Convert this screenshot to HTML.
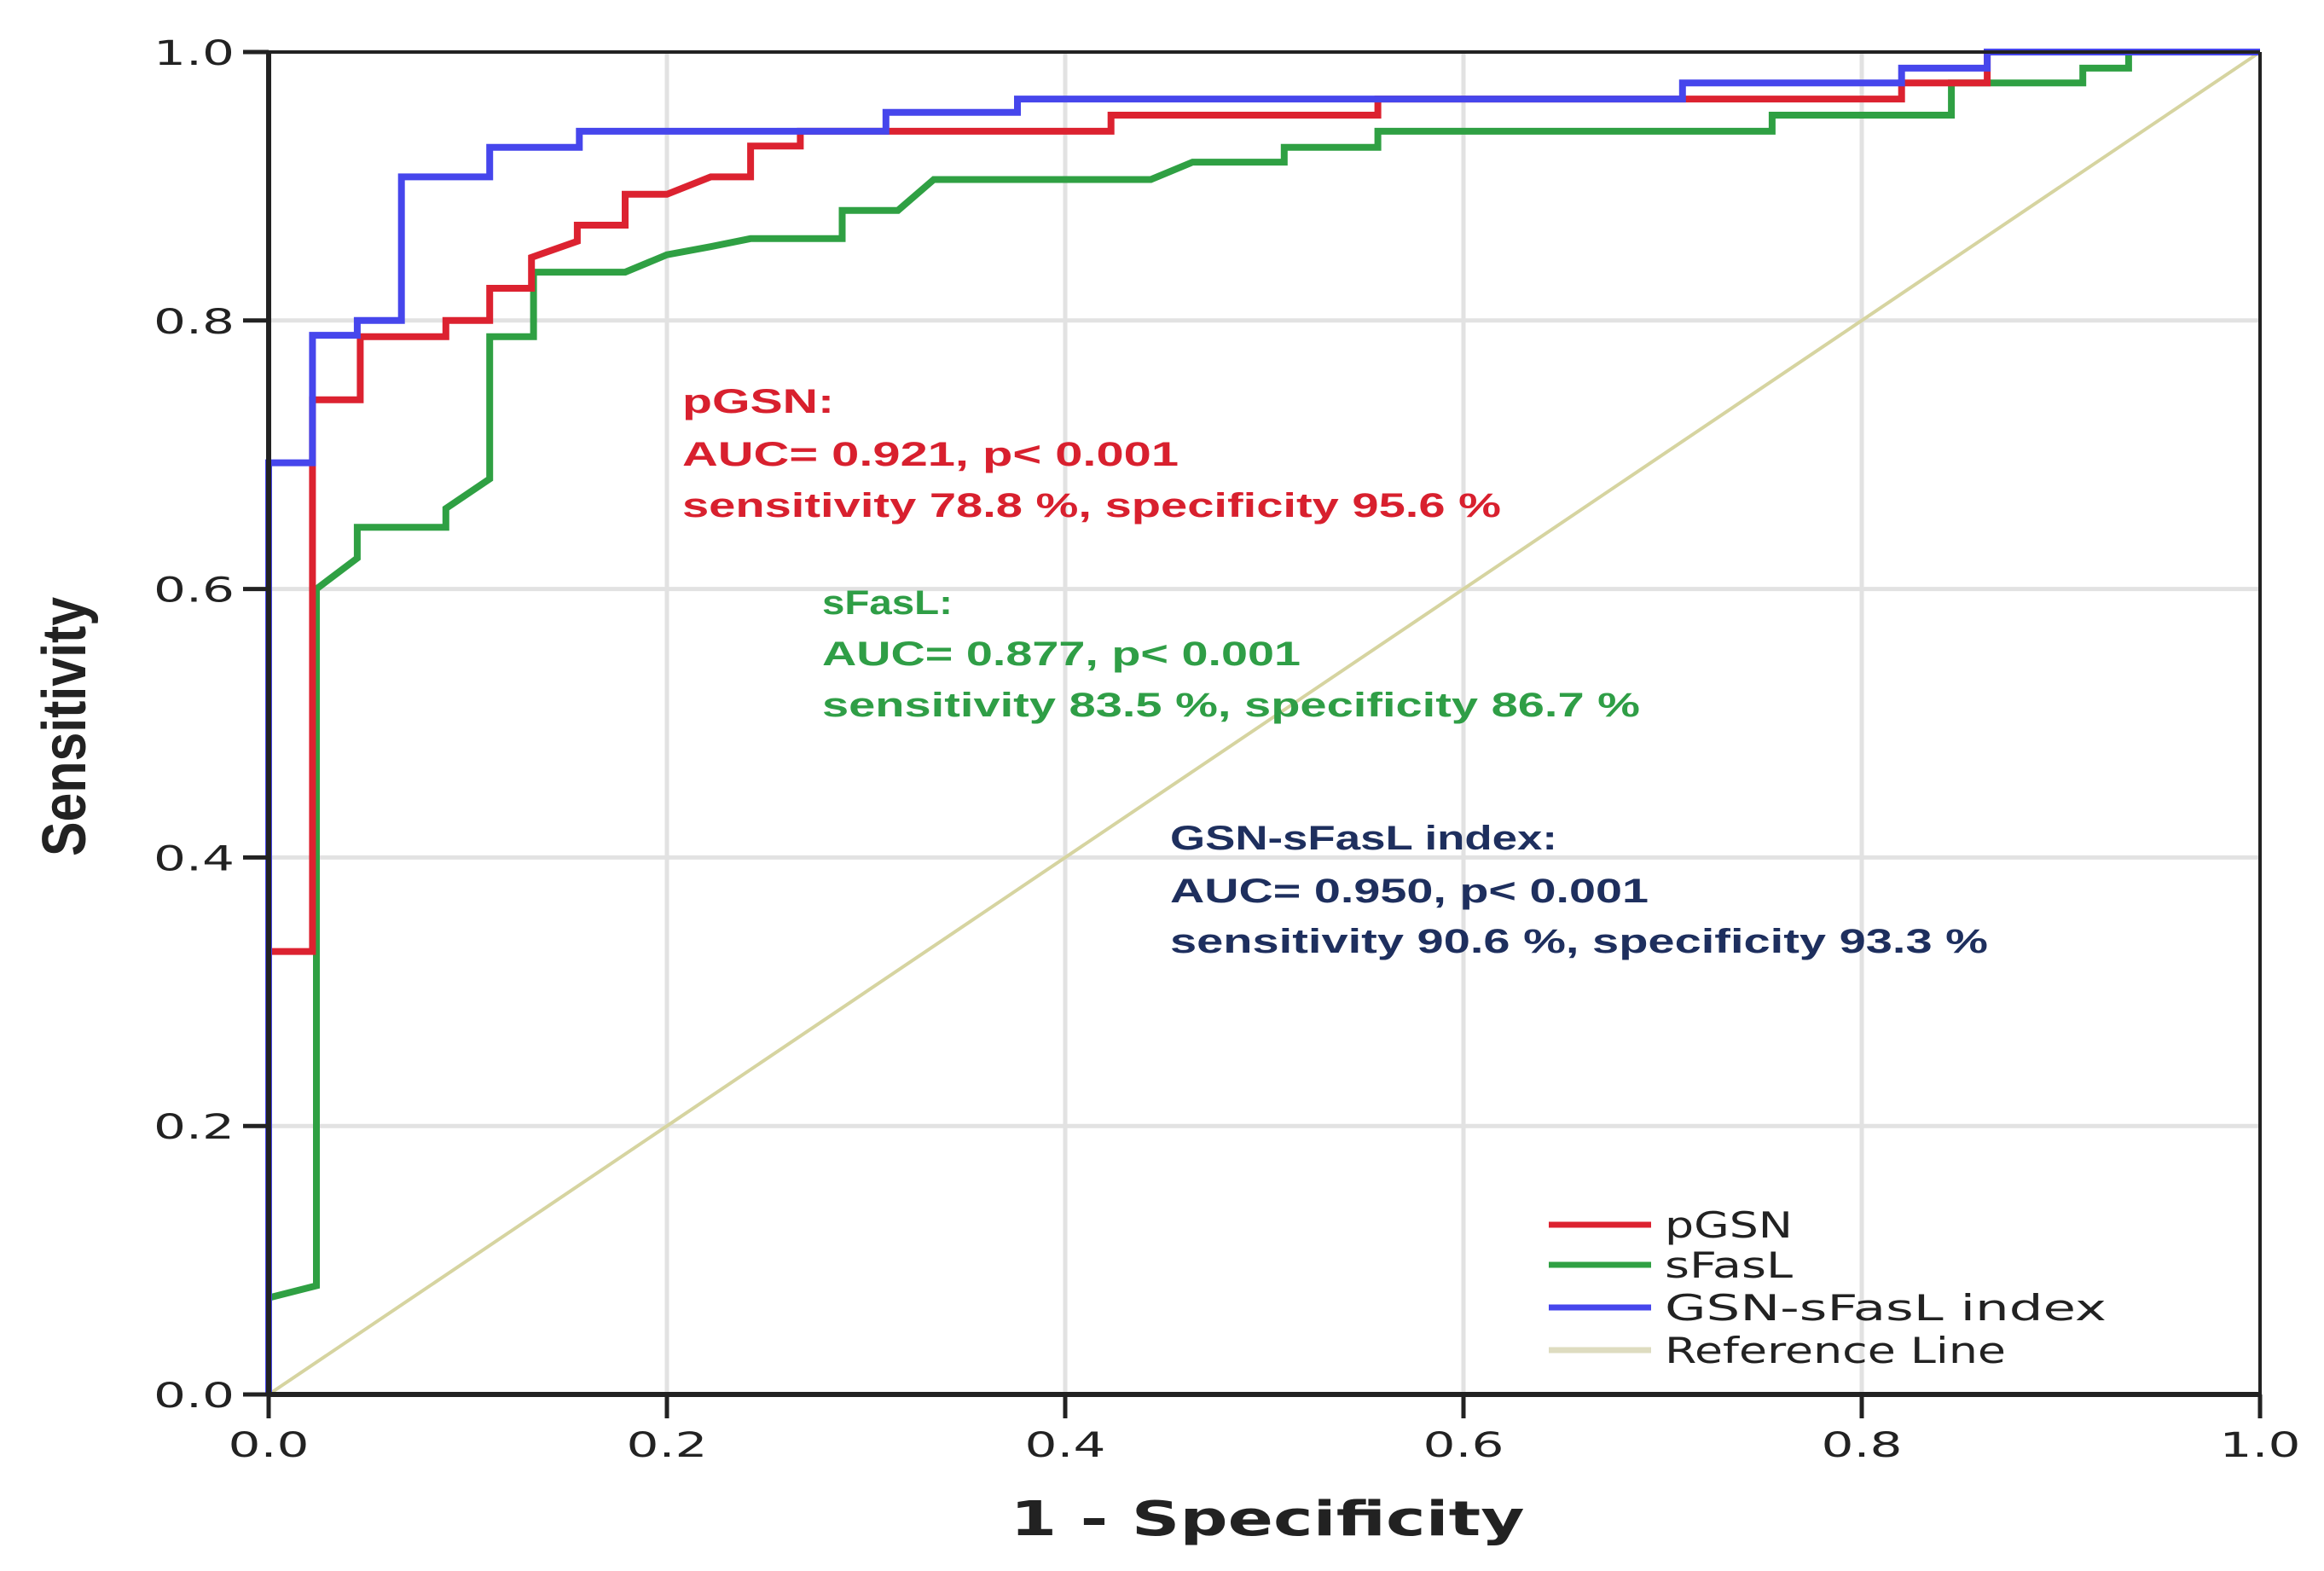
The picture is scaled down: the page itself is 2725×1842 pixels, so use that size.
<!DOCTYPE html>
<html><head><meta charset="utf-8"><style>
html,body{margin:0;padding:0;background:#fff}
svg{display:block}
</style></head><body>
<svg id="chart" width="2725" height="1842" viewBox="0 0 2725 1842" xmlns="http://www.w3.org/2000/svg">
<rect width="2725" height="1842" fill="#fff"/>
<g id="grid"></g>
<g id="series"></g>
<g id="axes"></g>
<g id="annot" font-family="'Liberation Sans', sans-serif" font-weight="bold" font-size="40">
  <text x="800" y="484" fill="#d8202e" textLength="178" lengthAdjust="spacingAndGlyphs">pGSN:</text>
  <text x="800" y="546" fill="#d8202e" textLength="582" lengthAdjust="spacingAndGlyphs">AUC= 0.921, p&lt; 0.001</text>
  <text x="800" y="606" fill="#d8202e" textLength="960" lengthAdjust="spacingAndGlyphs">sensitivity 78.8 %, specificity 95.6 %</text>
  <text x="964" y="720" fill="#2f9e46" textLength="153" lengthAdjust="spacingAndGlyphs">sFasL:</text>
  <text x="964" y="780" fill="#2f9e46" textLength="561" lengthAdjust="spacingAndGlyphs">AUC= 0.877, p&lt; 0.001</text>
  <text x="964" y="840" fill="#2f9e46" textLength="959" lengthAdjust="spacingAndGlyphs">sensitivity 83.5 %, specificity 86.7 %</text>
  <text x="1372" y="996" fill="#1e2f5e" textLength="454" lengthAdjust="spacingAndGlyphs">GSN-sFasL index:</text>
  <text x="1372" y="1058" fill="#1e2f5e" textLength="561" lengthAdjust="spacingAndGlyphs">AUC= 0.950, p&lt; 0.001</text>
  <text x="1372" y="1117" fill="#1e2f5e" textLength="959" lengthAdjust="spacingAndGlyphs">sensitivity 90.6 %, specificity 93.3 %</text>
</g>
<g id="legend" font-family="'DejaVu Sans', sans-serif" font-size="42" fill="#222"></g>
<text x="1486" y="1800" text-anchor="middle" font-family="'DejaVu Sans', sans-serif" font-weight="bold" font-size="56" fill="#222" textLength="603" lengthAdjust="spacingAndGlyphs">1 - Specificity</text>
<text transform="translate(100,852) rotate(-90)" text-anchor="middle" font-family="'Liberation Sans', sans-serif" font-weight="bold" font-size="72" fill="#222" textLength="304" lengthAdjust="spacingAndGlyphs">Sensitivity</text>
</svg>
<script>
const ticks = [0, 0.2, 0.4, 0.6, 0.8, 1.0];
const tickLabels = ["0.0", "0.2", "0.4", "0.6", "0.8", "1.0"];
const pgsnFpr = [0,0,0,0.022,0.022,0.046,0.046,0.089,0.089,0.111,0.111,0.132,0.132,0.155,0.155,0.179,0.179,0.2,0.222,0.242,0.242,0.267,0.267,0.423,0.423,0.557,0.557,0.82,0.82,0.863,0.863,1];
const pgsnTpr = [0,0.33,0.33,0.33,0.741,0.741,0.788,0.788,0.8,0.8,0.824,0.824,0.847,0.859,0.871,0.871,0.894,0.894,0.907,0.907,0.93,0.93,0.941,0.941,0.953,0.953,0.965,0.965,0.977,0.977,1,1];
const sfaslFpr = [0,0,0.024,0.024,0.0445,0.0445,0.089,0.089,0.111,0.111,0.133,0.133,0.179,0.2,0.222,0.242,0.288,0.288,0.316,0.334,0.443,0.464,0.51,0.51,0.557,0.557,0.755,0.755,0.845,0.845,0.911,0.911,0.934,0.934,1];
const sfaslTpr = [0,0.072,0.081,0.6,0.623,0.646,0.646,0.66,0.682,0.788,0.788,0.836,0.836,0.849,0.855,0.861,0.861,0.882,0.882,0.905,0.905,0.918,0.918,0.929,0.929,0.941,0.941,0.953,0.953,0.977,0.977,0.988,0.988,1,1];
const indexFpr = [0,0,0.022,0.022,0.0445,0.0445,0.0667,0.0667,0.111,0.111,0.156,0.156,0.31,0.31,0.376,0.376,0.71,0.71,0.82,0.82,0.863,0.863,1];
const indexTpr = [0,0.694,0.694,0.789,0.789,0.8,0.8,0.907,0.907,0.929,0.929,0.941,0.941,0.955,0.955,0.965,0.965,0.977,0.977,0.988,0.988,1,1];
const seriesNames = ["pGSN", "sFasL", "GSN-sFasL index", "Reference Line"];

const NS = "http://www.w3.org/2000/svg";
const X0 = 315, X1 = 2650, Y0 = 1635, Y1 = 61;
function sx(v){ return X0 + v*(X1-X0); }
function sy(v){ return Y0 - v*(Y0-Y1); }
function mk(tag, attrs, parent){ const e=document.createElementNS(NS,tag); for(const k in attrs) e.setAttribute(k,attrs[k]); parent.appendChild(e); return e; }

const grid = document.getElementById('grid');
ticks.forEach((t,i)=>{
  if(t>0 && t<1){
    const v = mk('line',{x1:sx(t),x2:sx(t),y1:Y1,y2:Y0,stroke:'#e2e2e2','stroke-width':5},grid);
    
    
    const h = mk('line',{x1:X0,x2:X1,y1:sy(t),y2:sy(t),stroke:'#e2e2e2','stroke-width':5},grid);
    
    
  }
});

const series = document.getElementById('series');
const ref = mk('line',{x1:sx(0),y1:sy(0),x2:sx(1),y2:sy(1),stroke:'#d6d4a0','stroke-width':4},series);


function drawLine(fx, ty, color, name){
  const pts = fx.map((f,i)=>sx(f).toFixed(1)+','+sy(ty[i]).toFixed(1)).join(' ');
  const p = mk('polyline',{points:pts,fill:'none',stroke:color,'stroke-width':8,'stroke-linejoin':'miter'},series);
  
  
}
drawLine(sfaslFpr, sfaslTpr, '#2fa043', 'sfasl-curve');
drawLine(pgsnFpr, pgsnTpr, '#dc2230', 'pgsn-curve');
drawLine(indexFpr, indexTpr, '#4646ec', 'index-curve');

const axes = document.getElementById('axes');
const fr1 = mk('line',{x1:X0,x2:X1,y1:Y1,y2:Y1,stroke:'#222','stroke-width':4},axes);


const fr2 = mk('line',{x1:X1,x2:X1,y1:Y1,y2:Y0,stroke:'#222','stroke-width':4},axes);


const xa = mk('line',{x1:X0,x2:X1,y1:Y0,y2:Y0,stroke:'#222','stroke-width':6},axes);


const ya = mk('line',{x1:X0,x2:X0,y1:Y1,y2:Y0,stroke:'#222','stroke-width':6},axes);


ticks.forEach((t,i)=>{
  const xt = mk('line',{x1:sx(t),x2:sx(t),y1:Y0,y2:Y0+28,stroke:'#222','stroke-width':5},axes);
  
  
  const xl = mk('text',{x:sx(t),y:Y0+73,'text-anchor':'middle','font-family':"'DejaVu Sans', sans-serif",'font-size':40,fill:'#222',textLength:95,lengthAdjust:'spacingAndGlyphs'},axes);
  xl.textContent = tickLabels[i];
  
  
  const yt = mk('line',{x1:X0-30,x2:X0,y1:sy(t),y2:sy(t),stroke:'#222','stroke-width':5},axes);
  
  
  const yl = mk('text',{x:X0-40,y:sy(t)+15,'text-anchor':'end','font-family':"'DejaVu Sans', sans-serif",'font-size':40,fill:'#222',textLength:95,lengthAdjust:'spacingAndGlyphs'},axes);
  yl.textContent = tickLabels[i];
  
  
});

const legend = document.getElementById('legend');
const legColors = ['#dc2230','#2fa043','#4646ec','#dedcc0'];
const legY = [1436, 1483, 1533, 1583];
const legLen = [150, 150, 518, 400];
seriesNames.forEach((n,i)=>{
  const l = mk('line',{x1:1816,x2:1936,y1:legY[i],y2:legY[i],stroke:legColors[i],'stroke-width':7},legend);
  
  
  const t = mk('text',{x:1952,y:legY[i]+15,textLength:legLen[i],lengthAdjust:'spacingAndGlyphs'},legend);
  t.textContent = n;
  
  
});
</script>
</body></html>
